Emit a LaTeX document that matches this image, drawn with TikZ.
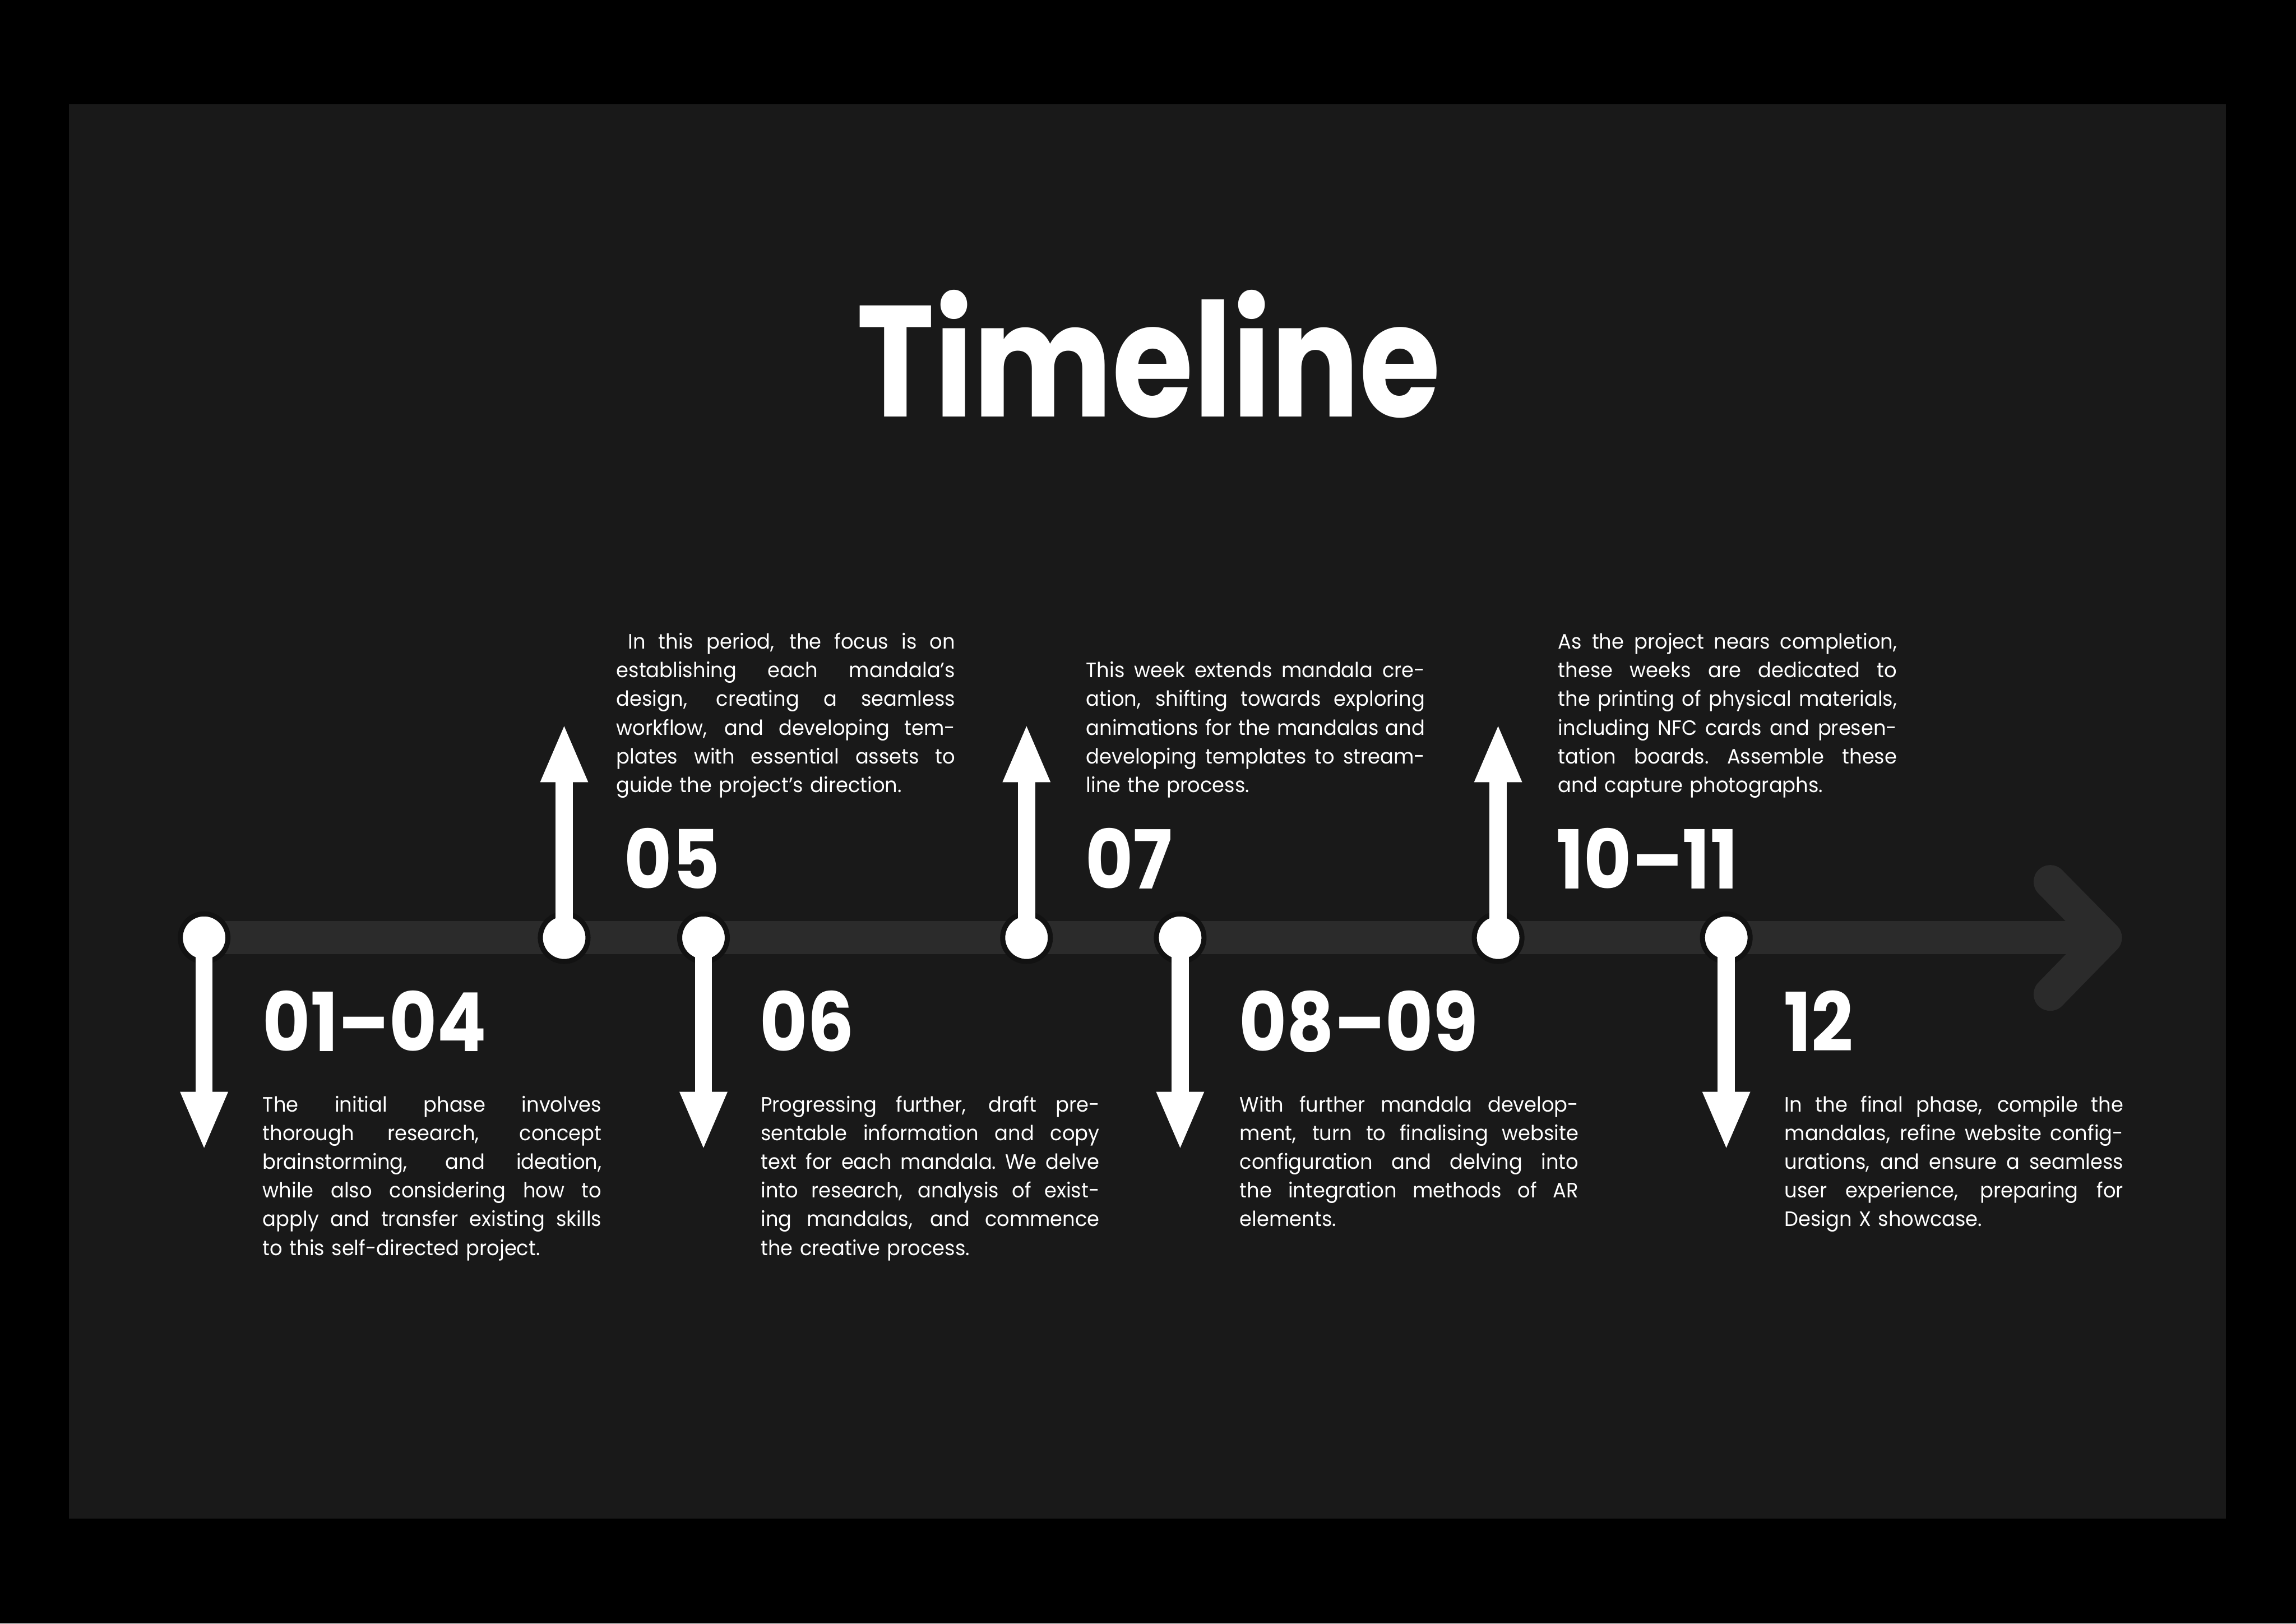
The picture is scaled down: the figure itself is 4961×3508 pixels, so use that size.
\documentclass[tikz,border=0pt]{standalone}
\usepackage{fontspec}
\setmainfont{Poppins}
\newfontfamily\titlefont[FakeStretch=0.83]{Poppins}
\newfontfamily\headfont[FakeStretch=0.9]{Poppins}
\newfontfamily\bodyfont[FakeStretch=0.95]{Poppins}
\usetikzlibrary{arrows.meta}
\definecolor{panel}{HTML}{191919}
\definecolor{barc}{HTML}{2B2B2B}
\definecolor{ringc}{HTML}{121212}
\newcommand\jl[1]{\hbox to \linewidth{\spaceskip=\fontdimen2\font plus 1fil\xspaceskip=\spaceskip #1}}
\newcommand\lastln[1]{\hbox{#1}}
\begin{document}
\begin{tikzpicture}[x=0.1pt,y=-0.1pt,
  dot/.style={circle, fill=white, draw=ringc, line width=1.1pt, minimum size=10.3pt, inner sep=0pt},
  stem/.style={draw=white, fill=white, line width=3.7pt, -{Triangle[width=9.3pt,length=12.7pt]}},
  bar/.style={draw=barc, line width=7.2pt},
  num/.style={text=white, anchor=base west, inner sep=0pt, font=\headfont\bfseries\fontsize{17.6}{17.6}\selectfont},
  body/.style={text=white, anchor=base west, inner sep=0pt, text width=73.2pt, font=\bodyfont\fontsize{4.5}{6.2}\selectfont},
]
\useasboundingbox (0,0) rectangle (4961,3508);
\fill[black] (0,0) rectangle (4961,3508);
\fill[panel] (149,225) rectangle (4809,3281);

\node[text=white, anchor=base, inner sep=0pt, font=\titlefont\bfseries\fontsize{34.2}{34.2}\selectfont] (title) at (2482,900) {Timeline};

% timeline bar and chevron
\coordinate (v) at (4549,2026);
\coordinate (a1) at (4430,1905);
\coordinate (a2) at (4430,2148);
\coordinate (start) at (441,2026);
\draw[bar] (start) -- (v);
\draw[bar, line cap=round, line join=round] (a1) -- (v) -- (a2);

% dots
\node[dot] (d1) at (441,2026) {};
\node[dot] (d2) at (1219,2026) {};
\node[dot] (d3) at (1520,2026) {};
\node[dot] (d4) at (2218,2026) {};
\node[dot] (d5) at (2550,2026) {};
\node[dot] (d6) at (3237,2026) {};
\node[dot] (d7) at (3730,2026) {};

% arrow tips
\coordinate (t1) at (441,2486);
\coordinate (t2) at (1219,1563);
\coordinate (t3) at (1520,2486);
\coordinate (t4) at (2218,1563);
\coordinate (t5) at (2550,2486);
\coordinate (t6) at (3237,1563);
\coordinate (t7) at (3730,2486);
\foreach \i in {1,...,7} { \draw[stem] (d\i.center) -- (t\i); }

% numbers
\node[num] (n1) at (566,2272) {01–04};
\node[num] (n2) at (1347,1920) {05};
\node[num] (n3) at (1640,2272) {06};
\node[num] (n4) at (2343,1920) {07};
\node[num] (n5) at (2675,2272) {08–09};
\node[num] (n6) at (3361,1920) {10–11};
\node[num] (n7) at (3852,2272) {12};

% body texts
\node[body] (b1) at (566,2402) {%
\jl{The initial phase involves}
\jl{thorough research, concept}
\jl{brainstorming, and ideation,}
\jl{while also considering how to}
\jl{apply and transfer existing skills}
\lastln{to this self-directed project.}};

\node[body] (b2) at (1330,1402) {%
\jl{\kern2.5pt In this period, the focus is on}
\jl{establishing each mandala’s}
\jl{design, creating a seamless}
\jl{workflow, and developing tem-}
\jl{plates with essential assets to}
\lastln{guide the project’s direction.}};

\node[body] (b3) at (1642,2402) {%
\jl{Progressing further, draft pre-}
\jl{sentable information and copy}
\jl{text for each mandala. We delve}
\jl{into research, analysis of exist-}
\jl{ing mandalas, and commence}
\lastln{the creative process.}};

\node[body] (b4) at (2345,1464) {%
\jl{This week extends mandala cre-}
\jl{ation, shifting towards exploring}
\jl{animations for the mandalas and}
\jl{developing templates to stream-}
\lastln{line the process.}};

\node[body] (b5) at (2677,2402) {%
\jl{With further mandala develop-}
\jl{ment, turn to finalising website}
\jl{configuration and delving into}
\jl{the integration methods of AR}
\lastln{elements.}};

\node[body] (b6) at (3365,1402) {%
\jl{As the project nears completion,}
\jl{these weeks are dedicated to}
\jl{the printing of physical materials,}
\jl{including NFC cards and presen-}
\jl{tation boards. Assemble these}
\lastln{and capture photographs.}};

\node[body] (b7) at (3854,2402) {%
\jl{In the final phase, compile the}
\jl{mandalas, refine website config-}
\jl{urations, and ensure a seamless}
\jl{user experience, preparing for}
\lastln{Design X showcase.}};
\end{tikzpicture}
\end{document}
